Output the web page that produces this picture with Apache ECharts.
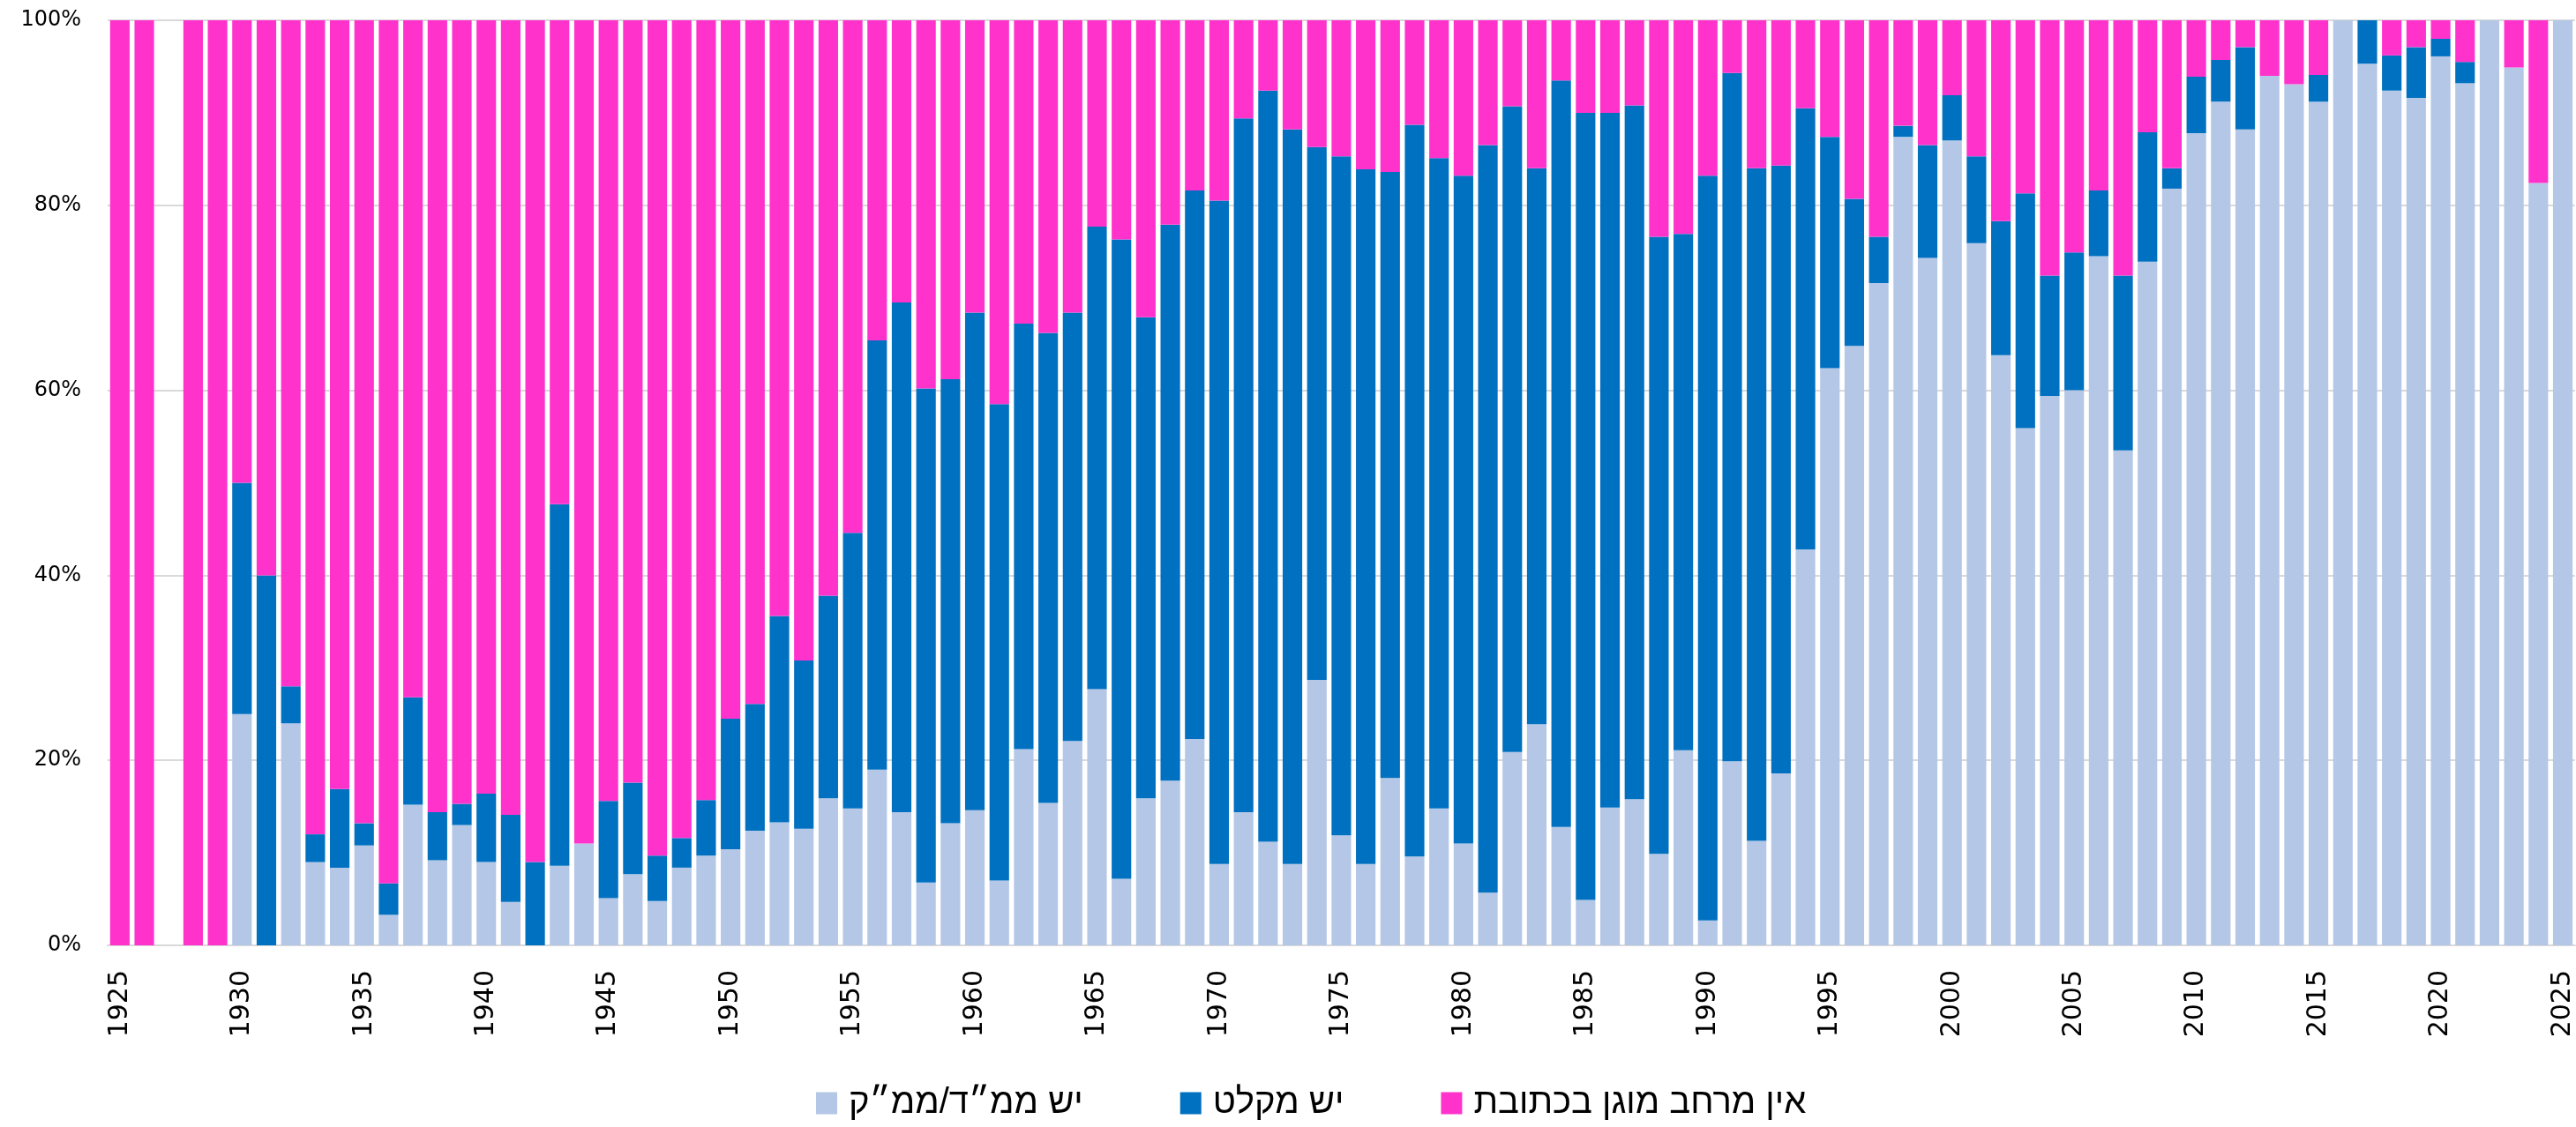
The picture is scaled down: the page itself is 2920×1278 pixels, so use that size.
<!DOCTYPE html>
<html><head><meta charset="utf-8">
<script src="https://cdn.jsdelivr.net/npm/echarts@6/dist/echarts.min.js"></script>
<style>html,body{margin:0;padding:0;background:#fff}#c{width:2920px;height:1278px}</style>
</head><body><div id="c"></div>
<script>
const years = [];
for (let y = 1925; y <= 2025; y++) years.push(String(y));

const seriesNames = ['יש ממ״ד/ממ״ק', 'יש מקלט', 'אין מרחב מוגן בכתובת'];

// יש ממ"ד/ממ"ק (%)
const mamad = [
  0, 0, null, 0, 0,
  25, 0, 24, 9, 8.4, 10.8, 3.3, 15.2, 9.2, 13.0,
  9.0, 4.7, 0, 8.6, 11.0, 5.1, 7.7, 4.8, 8.4, 9.7,
  10.4, 12.4, 13.3, 12.6, 15.9, 14.8, 19.0, 14.4, 6.8, 13.2,
  14.6, 7.0, 21.2, 15.4, 22.1, 27.7, 7.2, 15.9, 17.8, 22.3,
  8.8, 14.4, 11.2, 8.8, 28.7, 11.9, 8.8, 18.1, 9.6, 14.8,
  11.0, 5.7, 20.9, 23.9, 12.8, 4.9, 14.9, 15.8, 9.9, 21.1,
  2.7, 19.9, 11.3, 18.6, 42.8, 62.4, 64.8, 71.6, 87.4, 74.3,
  87.0, 75.9, 63.8, 55.9, 59.4, 60.0, 74.5, 53.5, 73.9, 81.8,
  87.8, 91.2, 88.2, 94.0, 93.1, 91.2, 100, 95.3, 92.4, 91.6,
  96.1, 93.2, 100, 94.9, 82.4, 100
];

// יש מקלט (%)
const miklat = [
  0, 0, null, 0, 0,
  25, 40, 4.0, 3.0, 8.5, 2.4, 3.4, 11.6, 5.2, 2.3,
  7.4, 9.4, 9.0, 39.1, 0, 10.5, 9.9, 4.9, 3.2, 6.0,
  14.1, 13.7, 22.3, 18.2, 21.9, 29.8, 46.4, 55.1, 53.4, 48.0,
  53.8, 51.5, 46.0, 50.8, 46.3, 50.0, 69.1, 52.0, 60.1, 59.3,
  71.7, 75.0, 81.2, 79.4, 57.6, 73.4, 75.1, 65.5, 79.1, 70.3,
  72.2, 80.8, 69.8, 60.1, 80.7, 85.1, 75.1, 75.0, 66.7, 55.8,
  80.5, 74.4, 72.7, 65.7, 47.7, 25.0, 15.9, 5.0, 1.2, 12.2,
  4.9, 9.4, 14.5, 25.4, 13.0, 14.9, 7.1, 18.9, 14.0, 2.2,
  6.1, 4.5, 8.9, 0, 0, 2.9, 0, 4.7, 3.8, 5.5,
  1.9, 2.3, 0, 0, 0, 0
];

// אין מרחב מוגן בכתובת (%)
const none = [
  100, 100, null, 100, 100,
  50, 60, 72.0, 88.0, 83.1, 86.8, 93.3, 73.2, 85.6, 84.7,
  83.6, 85.9, 91.0, 52.3, 89.0, 84.4, 82.4, 90.3, 88.4, 84.3,
  75.5, 73.9, 64.4, 69.2, 62.2, 55.4, 34.6, 30.5, 39.8, 38.8,
  31.6, 41.5, 32.8, 33.8, 31.6, 22.3, 23.7, 32.1, 22.1, 18.4,
  19.5, 10.6, 7.6, 11.8, 13.7, 14.7, 16.1, 16.4, 11.3, 14.9,
  16.8, 13.5, 9.3, 16.0, 6.5, 10.0, 10.0, 9.2, 23.4, 23.1,
  16.8, 5.7, 16.0, 15.7, 9.5, 12.6, 19.3, 23.4, 11.4, 13.5,
  8.1, 14.7, 21.7, 18.7, 27.6, 25.1, 18.4, 27.6, 12.1, 16.0,
  6.1, 4.3, 2.9, 6.0, 6.9, 5.9, 0, 0, 3.8, 2.9,
  2.0, 4.5, 0, 5.1, 17.6, 0
];

const yTicks = [0, 20, 40, 60, 80, 100];

const colors = ['#B4C7E7', '#0070C0', '#FF33CC'];
const seriesData = [mamad, miklat, none];

const chart = echarts.init(document.getElementById('c'), null, {renderer: 'canvas'});
chart.setOption({
  animation: false,
  backgroundColor: '#fff',
  grid: {left: 122, right: 0, top: 23, bottom: 206, containLabel: false},
  legend: {
    left: 920, top: 1226,
    itemWidth: 24, itemHeight: 25, itemGap: 110,
    icon: 'rect',
    textStyle: {fontFamily: '"Liberation Sans Narrow", "Liberation Sans", "DejaVu Sans", sans-serif', fontSize: 40, color: '#000', padding: [0, 0, 0, 8]},
    data: seriesNames
  },
  xAxis: {
    type: 'category', data: years,
    axisLine: {lineStyle: {color: '#D9D9D9', width: 2}},
    axisTick: {show: false},
    axisLabel: {interval: 4, rotate: 90, margin: 28, fontFamily: '"DejaVu Sans", sans-serif', fontSize: 30, color: '#000'}
  },
  yAxis: {
    type: 'value', min: yTicks[0], max: yTicks[yTicks.length - 1], interval: 20,
    axisLine: {show: false}, axisTick: {show: false},
    splitLine: {lineStyle: {color: '#D9D9D9', width: 2}},
    axisLabel: {formatter: '{value}%', margin: 30, fontFamily: '"DejaVu Sans", sans-serif', fontSize: 24, color: '#000'}
  },
  series: seriesNames.map((n, i) => ({
    name: n, type: 'bar', stack: 'total', data: seriesData[i],
    barCategoryGap: '20%',
    itemStyle: {color: colors[i]}
  }))
});
</script></body></html>
